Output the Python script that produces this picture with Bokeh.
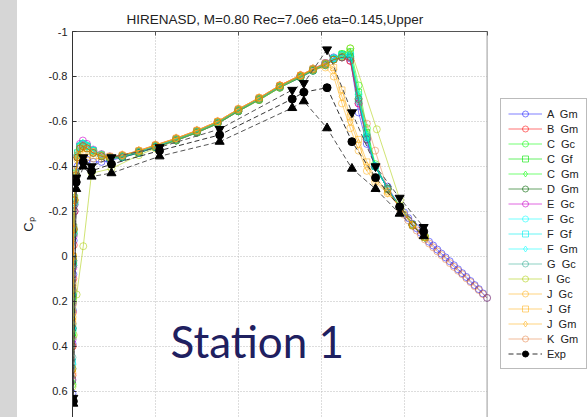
from bokeh.plotting import figure
from bokeh.models import (Range1d, FixedTicker, Legend, LegendItem, Label,
                          CustomJSTickFormatter, Div, BoxAnnotation, Span)
from bokeh.layouts import row
from bokeh.embed import file_html
from bokeh.resources import INLINE

TITLE = "HIRENASD, M=0.80 Rec=7.0e6 eta=0.145,Upper"
Y_TICKS = [-1.0, -0.8, -0.6, -0.4, -0.2, 0.0, 0.2, 0.4, 0.6]
X_TICKS = [0.0, 0.2, 0.4, 0.6, 0.8, 1.0]

# chordwise stations (x/c)
X_SHORT = [0.0, 0.0005, 0.001, 0.002, 0.003, 0.005, 0.008, 0.012, 0.018, 0.025,
           0.035, 0.05, 0.07, 0.09, 0.12, 0.16, 0.20, 0.25, 0.30, 0.35,
           0.40, 0.45, 0.50, 0.55, 0.58, 0.61, 0.63, 0.65, 0.67, 0.69,
           0.71, 0.73, 0.76, 0.79, 0.82, 0.85]
X_FULL = [0.0, 0.0005, 0.001, 0.002, 0.003, 0.005, 0.008, 0.012, 0.018, 0.025,
          0.035, 0.05, 0.07, 0.09, 0.12, 0.16, 0.20, 0.25, 0.30, 0.35,
          0.40, 0.45, 0.50, 0.55, 0.58, 0.61, 0.63, 0.65, 0.67, 0.69,
          0.71, 0.73, 0.76, 0.79,
          0.80, 0.81, 0.82, 0.83, 0.84, 0.85, 0.86, 0.87, 0.88, 0.89,
          0.90, 0.91, 0.92, 0.93, 0.94, 0.95, 0.96, 0.97, 0.98, 0.99, 1.0]
X_I = [0.0, 0.003, 0.01, 0.026, 0.046, 0.094, 0.16, 0.20, 0.25, 0.30, 0.35, 0.40,
       0.45, 0.50, 0.55, 0.58, 0.61, 0.63, 0.65, 0.67, 0.734, 0.79, 0.82, 0.85]

A_GM = [0.61, 0.39, 0.24, 0.08, -0.07, -0.20, -0.33, -0.40, -0.43, -0.43,
        -0.43, -0.42, -0.42, -0.425, -0.44, -0.46, -0.485, -0.515, -0.55, -0.59,
        -0.645, -0.70, -0.755, -0.80, -0.83, -0.86, -0.885, -0.895, -0.88, -0.64,
        -0.50, -0.40, -0.31, -0.22,
        -0.195, -0.17, -0.145, -0.125, -0.105, -0.085, -0.065, -0.048, -0.03, -0.012,
        0.005, 0.022, 0.04, 0.058, 0.075, 0.092, 0.11, 0.128, 0.146, 0.165, 0.185]
B_GM = [0.53, 0.40, 0.25, 0.10, -0.05, -0.20, -0.34, -0.44, -0.49, -0.50,
        -0.49, -0.47, -0.45, -0.44, -0.445, -0.465, -0.49, -0.52, -0.555, -0.595,
        -0.65, -0.70, -0.76, -0.805, -0.83, -0.855, -0.875, -0.885, -0.87, -0.68,
        -0.52, -0.40, -0.30, -0.22, -0.14, -0.085]
C_GC = [0.57, 0.36, 0.20, 0.04, -0.10, -0.24, -0.36, -0.45, -0.49, -0.50,
        -0.49, -0.47, -0.45, -0.44, -0.445, -0.465, -0.49, -0.52, -0.555, -0.595,
        -0.65, -0.70, -0.755, -0.80, -0.83, -0.855, -0.88, -0.90, -0.925, -0.76,
        -0.57, -0.41, -0.30, -0.22, -0.14, -0.085]
C_GF = [0.55, 0.34, 0.18, 0.02, -0.12, -0.26, -0.37, -0.46, -0.49, -0.50,
        -0.49, -0.47, -0.45, -0.44, -0.445, -0.465, -0.49, -0.52, -0.555, -0.595,
        -0.65, -0.70, -0.755, -0.80, -0.83, -0.855, -0.88, -0.90, -0.91, -0.73,
        -0.55, -0.40, -0.30, -0.22, -0.14, -0.085]
C_GM = [0.56, 0.35, 0.19, 0.03, -0.11, -0.25, -0.36, -0.45, -0.49, -0.50,
        -0.49, -0.47, -0.45, -0.44, -0.445, -0.465, -0.49, -0.52, -0.555, -0.595,
        -0.65, -0.70, -0.755, -0.80, -0.83, -0.855, -0.88, -0.895, -0.90, -0.71,
        -0.54, -0.40, -0.30, -0.22, -0.14, -0.085]
D_GM = [0.50, 0.32, 0.17, 0.02, -0.12, -0.25, -0.36, -0.44, -0.48, -0.49,
        -0.48, -0.46, -0.445, -0.435, -0.44, -0.46, -0.485, -0.515, -0.55, -0.59,
        -0.645, -0.695, -0.75, -0.795, -0.825, -0.85, -0.875, -0.885, -0.89, -0.70,
        -0.53, -0.40, -0.30, -0.22, -0.14, -0.085]
E_GC = [0.55, 0.37, 0.21, 0.05, -0.09, -0.23, -0.36, -0.45, -0.50, -0.515,
        -0.50, -0.475, -0.455, -0.445, -0.45, -0.47, -0.495, -0.525, -0.56, -0.60,
        -0.655, -0.705, -0.76, -0.805, -0.835, -0.86, -0.88, -0.885, -0.87, -0.68,
        -0.52, -0.40, -0.30, -0.22, -0.14, -0.085]
F_GC = [0.48, 0.33, 0.18, 0.03, -0.11, -0.24, -0.36, -0.45, -0.49, -0.50,
        -0.49, -0.47, -0.45, -0.44, -0.445, -0.465, -0.49, -0.52, -0.555, -0.595,
        -0.65, -0.70, -0.755, -0.80, -0.83, -0.855, -0.88, -0.895, -0.90, -0.72,
        -0.54, -0.40, -0.30, -0.22, -0.14, -0.085]
F_GF = [0.47, 0.31, 0.16, 0.01, -0.13, -0.26, -0.37, -0.46, -0.49, -0.50,
        -0.49, -0.47, -0.45, -0.44, -0.445, -0.465, -0.49, -0.52, -0.555, -0.595,
        -0.65, -0.70, -0.755, -0.80, -0.83, -0.855, -0.88, -0.895, -0.895, -0.70,
        -0.53, -0.40, -0.30, -0.22, -0.14, -0.085]
F_GM = [0.49, 0.32, 0.17, 0.02, -0.12, -0.25, -0.36, -0.45, -0.49, -0.50,
        -0.49, -0.47, -0.45, -0.44, -0.445, -0.465, -0.49, -0.52, -0.555, -0.595,
        -0.65, -0.70, -0.755, -0.80, -0.83, -0.855, -0.88, -0.89, -0.89, -0.71,
        -0.53, -0.40, -0.30, -0.22, -0.14, -0.085]
G_GC = [0.45, 0.32, 0.18, 0.04, -0.10, -0.23, -0.35, -0.44, -0.48, -0.49,
        -0.48, -0.46, -0.445, -0.435, -0.44, -0.46, -0.485, -0.515, -0.55, -0.59,
        -0.645, -0.695, -0.75, -0.795, -0.825, -0.85, -0.875, -0.885, -0.885, -0.69,
        -0.52, -0.40, -0.30, -0.22, -0.14, -0.085]
I_GC = [0.58, 0.35, 0.17, -0.045, -0.37, -0.39, -0.45, -0.48, -0.515, -0.55, -0.59, -0.645,
        -0.695, -0.75, -0.80, -0.83, -0.855, -0.875, -0.89, -0.925, -0.565, -0.25, -0.14, -0.085]
J_GC = [0.52, 0.27, 0.12, 0.0, -0.12, -0.25, -0.36, -0.43, -0.44, -0.44,
        -0.44, -0.435, -0.435, -0.44, -0.45, -0.47, -0.495, -0.525, -0.56, -0.60,
        -0.655, -0.705, -0.76, -0.805, -0.83, -0.84, -0.80, -0.68, -0.57, -0.47,
        -0.38, -0.33, -0.28, -0.22, -0.14, -0.085]
J_GF = [0.50, 0.29, 0.14, 0.0, -0.13, -0.26, -0.38, -0.45, -0.48, -0.49,
        -0.48, -0.465, -0.45, -0.445, -0.45, -0.47, -0.495, -0.525, -0.56, -0.60,
        -0.655, -0.705, -0.76, -0.805, -0.835, -0.86, -0.84, -0.74, -0.62, -0.52,
        -0.42, -0.35, -0.29, -0.22, -0.14, -0.085]
J_GM = [0.51, 0.28, 0.13, 0.0, -0.12, -0.25, -0.37, -0.44, -0.47, -0.48,
        -0.47, -0.46, -0.445, -0.44, -0.45, -0.47, -0.495, -0.525, -0.56, -0.60,
        -0.655, -0.705, -0.76, -0.805, -0.835, -0.855, -0.83, -0.71, -0.60, -0.50,
        -0.40, -0.34, -0.285, -0.22, -0.14, -0.085]
K_GM = [0.40, 0.30, 0.15, 0.02, -0.12, -0.25, -0.36, -0.44, -0.48, -0.49,
        -0.48, -0.46, -0.445, -0.44, -0.445, -0.465, -0.49, -0.52, -0.555, -0.595,
        -0.65, -0.70, -0.755, -0.80, -0.83, -0.855, -0.875, -0.885, -0.87, -0.70,
        -0.59, -0.47, -0.30, -0.21,
        -0.185, -0.16, -0.135, -0.115, -0.095, -0.075, -0.057, -0.04, -0.022, -0.005,
        0.012, 0.03, 0.047, 0.064, 0.08, 0.098, 0.115, 0.133, 0.15, 0.168, 0.185]

# experiment: mean and the two extremes
EXP_X = [0.002, 0.009, 0.026, 0.046, 0.094, 0.21, 0.355, 0.53, 0.558, 0.614, 0.674, 0.731, 0.789, 0.847]
EXP_MEAN = [0.645, -0.33, -0.42, -0.38, -0.41, -0.47, -0.54, -0.70, -0.73, -0.75, -0.51, -0.35, -0.22, -0.11]
EXP_UP = [0.63, -0.35, -0.44, -0.40, -0.44, -0.485, -0.566, -0.74, -0.77, -0.92, -0.64, -0.40, -0.26, -0.13]
EXP_LO = [0.655, -0.30, -0.40, -0.355, -0.37, -0.445, -0.51, -0.66, -0.69, -0.57, -0.39, -0.30, -0.19, -0.09]

SERIES = [
    ("A  Gm", X_FULL, A_GM, "#0000ff", 0.5, "circle"),
    ("B  Gm", X_SHORT, B_GM, "#ff0000", 0.55, "circle"),
    ("C  Gc", X_SHORT, C_GC, "#00ff00", 0.55, "circle"),
    ("C  Gf", X_SHORT, C_GF, "#00e600", 0.6, "square"),
    ("C  Gm", X_SHORT, C_GM, "#00ff00", 0.55, "diamond"),
    ("D  Gm", X_SHORT, D_GM, "#006400", 0.6, "circle"),
    ("E  Gc", X_SHORT, E_GC, "#cc00cc", 0.6, "circle"),
    ("F  Gc", X_SHORT, F_GC, "#00ffff", 0.55, "circle"),
    ("F  Gf", X_SHORT, F_GF, "#00eeee", 0.6, "square"),
    ("F  Gm", X_SHORT, F_GM, "#00ffff", 0.55, "diamond"),
    ("G  Gc", X_SHORT, G_GC, "#009977", 0.45, "circle"),
    ("I  Gc", X_I, I_GC, "#aacc00", 0.55, "circle"),
    ("J  Gc", X_SHORT, J_GC, "#ffaa00", 0.5, "circle"),
    ("J  Gf", X_SHORT, J_GF, "#ffaa00", 0.5, "square"),
    ("J  Gm", X_SHORT, J_GM, "#ffaa00", 0.5, "diamond"),
    ("K  Gm", X_FULL, K_GM, "#dd5500", 0.4, "circle"),
]
MSIZE = {"circle": 7, "square": 6, "diamond": 9}

# the frame is widened to the right so that the legend can sit beside the
# x/c = 0..1 box; pixel scale is 417 px per unit x/c, frame 519 px wide
FRAME_W = 519
PX_PER_UNIT = 417
p = figure(width=571, height=417, output_backend="svg", toolbar_location=None,
           x_range=Range1d(0, FRAME_W / PX_PER_UNIT), y_range=Range1d(0.717, -1.0),
           x_axis_location="above", min_border_left=52, min_border_right=0,
           min_border_top=31, min_border_bottom=0)
p.outline_line_color = None
p.background_fill_color = "white"
p.border_fill_color = "white"

p.title.text = TITLE
p.title.align = "left"
p.title.offset = 54
p.title.text_font = "Liberation Sans"
p.title.text_font_size = "13.5px"
p.title.text_font_style = "normal"
p.title.text_color = "#222222"

blank = CustomJSTickFormatter(code="return ''")

# top axis (frame border with inward ticks, no labels)
xa = p.xaxis[0]
xa.ticker = FixedTicker(ticks=X_TICKS)
xa.formatter = blank
xa.bounds = (0, 1)
xa.major_label_standoff = 0
xa.major_tick_in = 4
xa.major_tick_out = 0
xa.minor_tick_line_color = None
xa.axis_line_color = "#555555"
xa.major_tick_line_color = "#555555"

ya = p.yaxis[0]
ya.ticker = FixedTicker(ticks=Y_TICKS)
ya.formatter = CustomJSTickFormatter(code="return String(Math.round(tick*10)/10)")
ya.major_label_text_font = "Liberation Sans"
ya.major_label_text_font_size = "11px"
ya.major_label_text_color = "#222222"
ya.major_label_standoff = 5
ya.major_tick_in = 4
ya.major_tick_out = 0
ya.minor_tick_line_color = None
ya.axis_line_color = "#333333"
ya.major_tick_line_color = "#333333"
ya.axis_label = "Cₚ"
ya.axis_label_text_font = "Liberation Sans"
ya.axis_label_text_font_size = "13px"
ya.axis_label_text_font_style = "normal"
ya.axis_label_text_color = "#222222"
ya.axis_label_standoff = 10

p.xgrid.grid_line_color = "#bbbbbb"
p.xgrid.grid_line_dash = "1 2"
p.ygrid.grid_line_color = "#bbbbbb"
p.ygrid.grid_line_dash = "1 2"

# blank out the area right of x/c = 1 and draw the right border of the box
p.add_layout(BoxAnnotation(left=1.0, fill_color="white", fill_alpha=1.0,
                           line_color=None, level="underlay"))
p.add_layout(Span(location=1.0, dimension="height", line_color="#999999",
                  line_width=1, level="underlay"))

items = []
for label, xs, ys, color, alpha, marker in SERIES:
    ln = p.line(xs, ys, line_color=color, line_alpha=alpha, line_width=1)
    sc = p.scatter(xs, ys, marker=marker, size=MSIZE[marker], fill_color=None,
                   line_color=color, line_alpha=alpha, line_width=1)
    items.append(LegendItem(label=label, renderers=[ln, sc]))

l_up = p.line(EXP_X, EXP_UP, line_color="#555555", line_dash="5 3", line_width=1)
l_lo = p.line(EXP_X, EXP_LO, line_color="#555555", line_dash="5 3", line_width=1)
l_mean = p.line(EXP_X, EXP_MEAN, line_color="#333333", line_dash="5 3", line_width=1)
p.scatter(EXP_X, EXP_UP, marker="inverted_triangle", size=9, fill_color="black", line_color="black")
p.scatter(EXP_X, EXP_LO, marker="triangle", size=9, fill_color="black", line_color="black")
s_mean = p.scatter(EXP_X, EXP_MEAN, marker="circle", size=8, fill_color="black", line_color="black")
items.append(LegendItem(label="Exp", renderers=[l_mean, s_mean]))

legend = Legend(items=items, location=(428, 48), margin=0, padding=7, spacing=0,
                label_height=15, glyph_height=15, glyph_width=34, label_standoff=5,
                label_text_font="Liberation Sans", label_text_font_size="11px",
                label_text_color="#222222", border_line_color="#777777",
                border_line_width=1, background_fill_color="white", background_fill_alpha=1.0)
p.add_layout(legend, "center")

station = Label(x=98, y=77, x_units="screen", y_units="screen", text="Station 1",
                text_font="Lato", text_font_size="44px", text_color="#1f2060",
                text_baseline="alphabetic")
p.add_layout(station)

strip = Div(text="", width=17, height=417, margin=0,
            styles={"background-color": "#d6d6d6"})
layout = row(strip, p, spacing=0)

open("out.html", "w").write(file_html(layout, INLINE))
